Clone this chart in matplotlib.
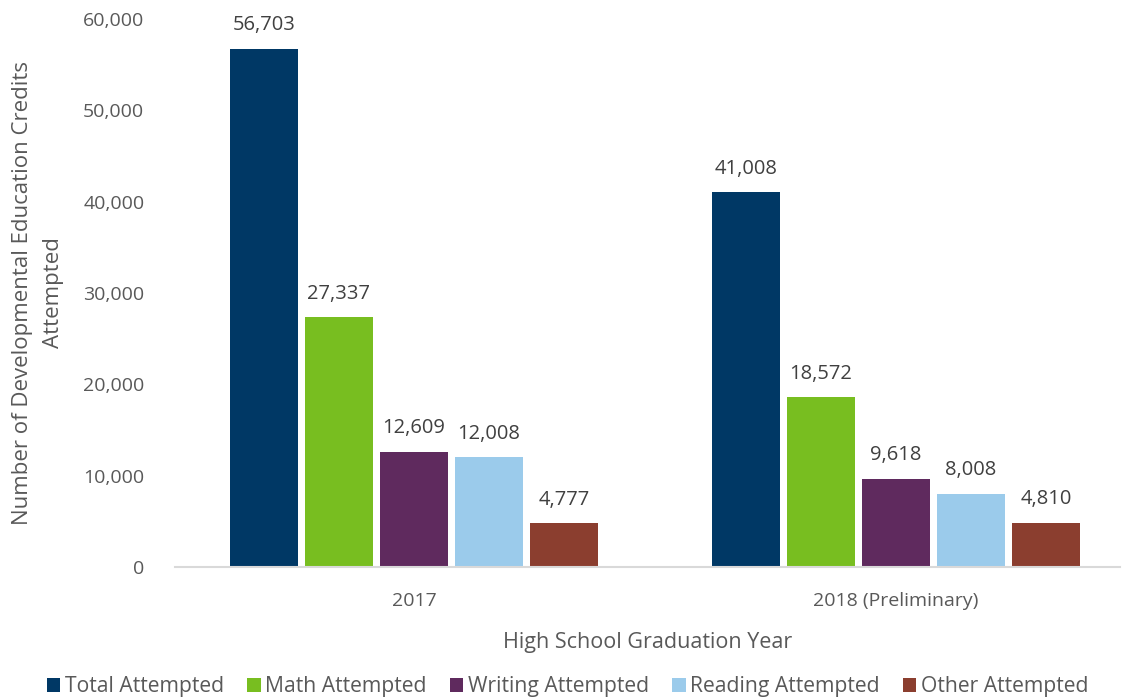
import matplotlib.pyplot as plt
import numpy as np

years = ["2017", "2018 (Preliminary)"]
series = ["Total Attempted", "Math Attempted", "Writing Attempted",
          "Reading Attempted", "Other Attempted"]
values = {
    "Total Attempted": [56703, 41008],
    "Math Attempted": [27337, 18572],
    "Writing Attempted": [12609, 9618],
    "Reading Attempted": [12008, 8008],
    "Other Attempted": [4777, 4810],
}
colors = ["#003865", "#78be20", "#5f2a5e", "#9bcbeb", "#8b3e2f"]

plt.rcParams["font.family"] = ["Open Sans", "DejaVu Sans"]
txt = "#595959"

fig = plt.figure(figsize=(11.28, 7.0), dpi=100)
ax = fig.add_axes([0.155, 0.19, 0.838, 0.783])

x = np.arange(len(years))
width = 0.141
step = 0.1556
for i, (name, c) in enumerate(zip(series, colors)):
    pos = x + (i - 2) * step
    bars = ax.bar(pos, values[name], width, color=c, label=name)
    for b, v in zip(bars, values[name]):
        ax.text(b.get_x() + b.get_width() / 2, v + 1500, f"{v:,}",
                ha="center", va="bottom", fontsize=14.5, color="#404040")

ax.set_xlim(-0.496, 1.465)
ax.set_ylim(0, 60000)
ax.set_yticks(np.arange(0, 60001, 10000))
ax.set_yticklabels([f"{t:,}" for t in range(0, 60001, 10000)])
ax.set_xticks(x)
ax.set_xticklabels(years)
ax.tick_params(axis="both", length=0, labelsize=14, colors=txt)
ax.tick_params(axis="x", pad=18)
ax.tick_params(axis="y", pad=22)
for s in ("top", "right", "left"):
    ax.spines[s].set_visible(False)
ax.spines["bottom"].set_color("#d9d9d9")
ax.spines["bottom"].set_linewidth(1.5)

ax.set_xlabel("High School Graduation Year", fontsize=15.5, color=txt, labelpad=16)
ax.set_ylabel("Number of Developmental Education Credits\nAttempted",
              fontsize=16, color=txt, labelpad=14, linespacing=1.6)

fig.legend(loc="center", bbox_to_anchor=(0.503, 0.019), ncol=5, frameon=False,
           fontsize=15.2, labelcolor=txt, handlelength=0.65, handleheight=0.65,
           handletextpad=0.2, columnspacing=1.1)

fig.savefig("out.png", dpi=100)
